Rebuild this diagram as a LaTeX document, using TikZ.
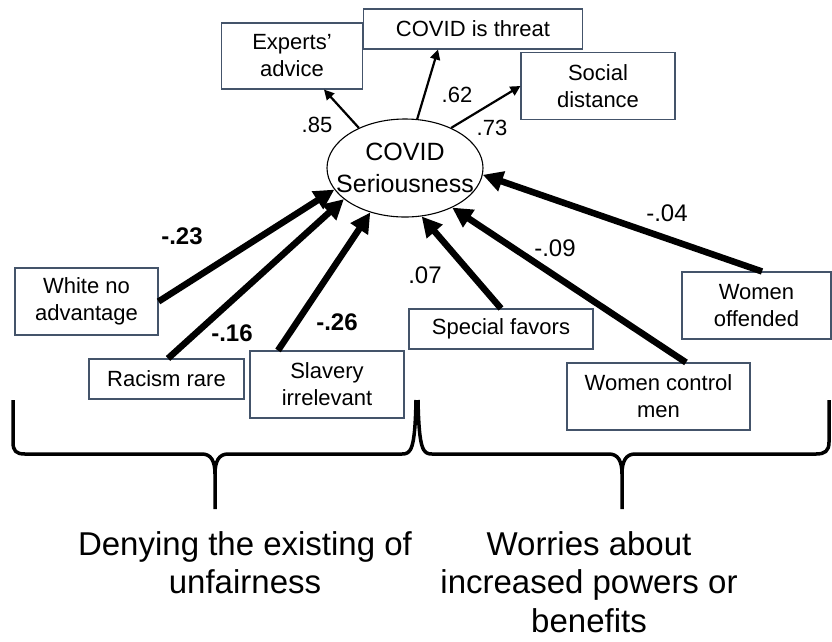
\documentclass[tikz,border=0pt]{standalone}
\usepackage{fontspec}
\setmainfont{Liberation Sans}
\usetikzlibrary{arrows.meta,shapes.geometric}
\definecolor{boxc}{RGB}{68,84,106}
\begin{document}
\begin{tikzpicture}[x=1pt,y=-1pt,
  box/.style={draw=boxc, line width=1.1pt, inner sep=0pt, align=center, font=\fontsize{22}{27}\selectfont},
  bigarrow/.style={line width=6.5pt, -{Triangle[length=20pt,width=20pt]}},
  smallarrow/.style={line width=2.2pt, -{Triangle[length=10pt,width=10pt]}},
  lab/.style={font=\fontsize{22}{26}\selectfont, inner sep=0pt},
  labb/.style={font=\fontsize{24}{28}\selectfont, inner sep=0pt},
  blab/.style={font=\bfseries\fontsize{24}{28}\selectfont, inner sep=0pt},
  bracestyle/.style={line width=3.5pt, line join=round},
  bottomtxt/.style={font=\fontsize{33}{38.5}\selectfont, align=center, inner sep=0pt, anchor=north}]
\useasboundingbox (0,0) rectangle (832,641);

% boxes
\node[box, minimum width=141pt, minimum height=66pt] (ea) at (292,56) {Experts’\\advice};
\node[box, minimum width=219pt, minimum height=40pt] (ct) at (473,29) {COVID is threat};
\node[box, minimum width=154pt, minimum height=67pt] (sd) at (598,86) {Social\\distance};
\node[box, minimum width=143pt, minimum height=67pt] (wna) at (86.5,301.5) {White no\\advantage};
\node[box, minimum width=155pt, minimum height=40pt] (rr) at (166.5,379) {Racism rare};
\node[box, minimum width=154pt, minimum height=67pt] (sl) at (327,384.5) {Slavery\\irrelevant};
\node[box, minimum width=184pt, minimum height=40pt] (sf) at (501,329) {Special favors};
\node[box, minimum width=183pt, minimum height=67pt] (wcm) at (658.5,396.5) {Women control\\men};
\node[box, minimum width=149pt, minimum height=67pt] (wo) at (756.5,305.5) {Women\\offended};

% ellipse
\node[draw, ellipse, line width=1.1pt, minimum width=156pt, minimum height=98pt, inner sep=0pt] (cs) at (405,168)
  {\raisebox{-8pt}[0pt][0pt]{\makebox[0pt]{\fontsize{25}{32}\selectfont\begin{tabular}{@{}c@{}}COVID\\Seriousness\end{tabular}}}};

% thick arrows
\draw[bigarrow] (wna.east) -- (cs.197);
\draw[bigarrow] ([xshift=1.5pt]rr.north) -- (cs.207);
\draw[bigarrow] ([xshift=-49pt]sl.north) -- (cs.232);
\draw[bigarrow] (sf.north) -- (cs.289);
\draw[bigarrow] ([xshift=27.5pt]wcm.north) -- (cs.320);
\draw[bigarrow] ([xshift=5.5pt]wo.north) -- (cs.355);

% thin arrows
\draw[smallarrow] (cs.139.5) -- ([xshift=32pt]ea.south);
\draw[smallarrow] (cs.76.5) -- ([xshift=-35pt]ct.south);
\draw[smallarrow] (cs.41) -- (sd.west);

% labels
\node[lab] (l85) at (317,125) {.85};
\node[lab] (l62) at (457,95) {.62};
\node[lab] (l73) at (492,128) {.73};
\node[labb] (l04) at (667,213) {-.04};
\node[labb] (l09) at (555,248) {-.09};
\node[labb] (l07) at (425,275) {.07};
\node[blab] (l23) at (182,236) {-.23};
\node[blab] (l16) at (232,333) {-.16};
\node[blab] (l26) at (337,322) {-.26};

% braces
\draw[bracestyle] (13,400) -- (13,442) .. controls (13,451) and (16,454) .. (25,454) -- (202,454)
  .. controls (211,454) and (215,461) .. (215,474) -- (215,509);
\draw[bracestyle] (215,474) .. controls (215,461) and (219,454) .. (228,454) -- (402,454)
  .. controls (411,454) and (415,450) .. (416,400);
\draw[bracestyle] (418,400) .. controls (419,450) and (423,454) .. (432,454) -- (609,454)
  .. controls (618,454) and (622,461) .. (622,474) -- (622,509);
\draw[bracestyle] (622,474) .. controls (622,461) and (626,454) .. (635,454) -- (816,454)
  .. controls (825,454) and (829,451) .. (829,442) -- (829,400);

% bottom texts
\node[bottomtxt] (t1) at (245,531) {Denying the existing of\\unfairness};
\node[bottomtxt] (t2) at (589,531) {Worries about\\increased powers or\\benefits};
\end{tikzpicture}
\end{document}
